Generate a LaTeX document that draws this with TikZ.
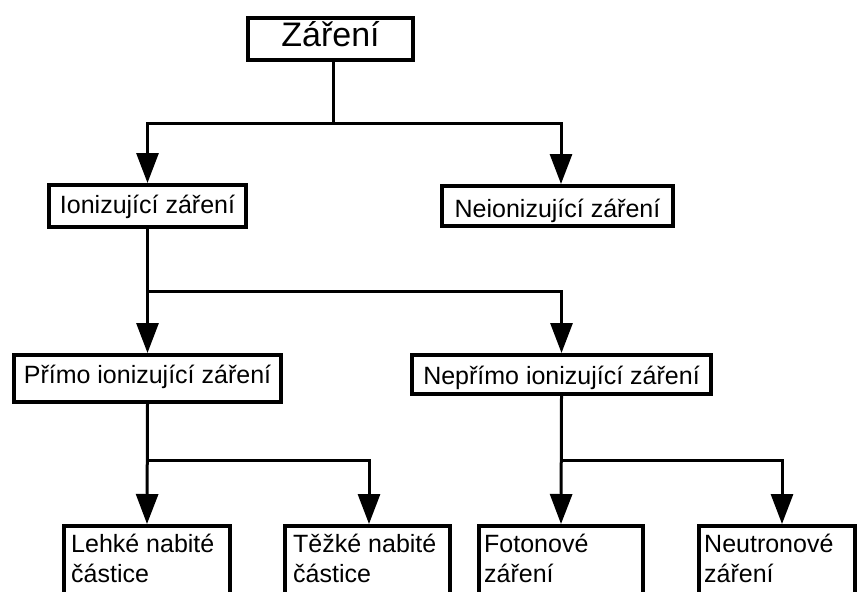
\documentclass[tikz,border=0pt]{standalone}
\usepackage{fontspec}
\setmainfont{Liberation Sans}
\usetikzlibrary{arrows.meta}
\begin{document}
\begin{tikzpicture}[x=1pt,y=-1pt,
  box/.style={draw=black, line width=4pt, fill=white, rectangle, inner sep=0pt,
    font=\fontsize{25}{30}\selectfont},
  txt/.style={inner sep=0pt, align=left, anchor=north west,
    font=\fontsize{25}{30}\selectfont},
  conn/.style={line width=3pt, black},
  arr/.style={conn, -{Triangle[length=30pt,width=22pt]}}
]
\useasboundingbox (0,0) rectangle (858,591);
\fill[white] (0,0) rectangle (858,591);
\clip (0,0) rectangle (858,591);

% level 0
\node[box, minimum width=165pt, minimum height=42pt, text height=25pt, text depth=9pt,
  font=\fontsize{34}{40}\selectfont] (zar) at (330.5,39) {Záření};
% level 1
\node[box, minimum width=197pt, minimum height=42pt, text height=18.5pt, text depth=4.5pt]
  (ion) at (147.5,206) {Ionizující záření};
\node[box, minimum width=231pt, minimum height=40pt, text height=24pt, text depth=2pt]
  (neion) at (557.5,206) {Neionizující záření};
% level 2
\node[box, minimum width=267pt, minimum height=47pt, text height=18.5pt, text depth=8.5pt]
  (primo) at (147.5,378.5) {Přímo ionizující záření};
\node[box, minimum width=299pt, minimum height=39pt, text height=24pt, text depth=5pt]
  (neprimo) at (561.5,374.5) {Nepřímo ionizující záření};
% level 3 (boxes run past the bottom edge)
\node[box, minimum width=166pt, minimum height=120pt, anchor=north] (lehke) at (147,524) {};
\node[box, minimum width=165pt, minimum height=120pt, anchor=north] (tezke) at (367.5,524) {};
\node[box, minimum width=164pt, minimum height=120pt, anchor=north] (foton) at (561,524) {};
\node[box, minimum width=156pt, minimum height=120pt, anchor=north] (neutr) at (777,524) {};

\node[txt] (tlehke) at ([xshift=9pt,yshift=-10pt]lehke.north west) {Lehké nabité\\částice};
\node[txt] (ttezke) at ([xshift=10pt,yshift=-10pt]tezke.north west) {Těžké nabité\\částice};
\node[txt] (tfoton) at ([xshift=7pt,yshift=-10pt]foton.north west) {Fotonové\\záření};
\node[txt] (tneutr) at ([xshift=7pt,yshift=-10pt]neutr.north west) {Neutronové\\záření};

% connectors
\coordinate (j1) at (333,123);
\coordinate (j2) at (147.5,291);
\coordinate (j3) at (147.5,460);
\coordinate (j4) at (561.5,460);

\draw[conn] ([xshift=2.5pt]zar.south) -- (j1);
\draw[arr] (j1) -| (ion.north);
\draw[arr] (j1) -| ([xshift=3.5pt]neion.north);

\draw[arr] (ion.south) -- (primo.north);
\draw[arr] (j2) -| (neprimo.north);

\draw[arr] (primo.south) -- (lehke.north);
\draw[arr] (j3) -| ([xshift=1.5pt]tezke.north);

\draw[arr] (neprimo.south) -- (foton.north);
\draw[arr] (j4) -| ([xshift=5pt]neutr.north);
\end{tikzpicture}
\end{document}
